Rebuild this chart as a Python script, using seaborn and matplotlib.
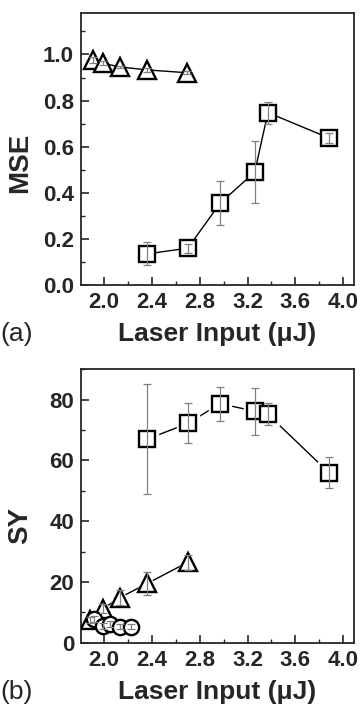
import numpy as np
import seaborn as sns
import matplotlib.pyplot as plt
from matplotlib.ticker import MultipleLocator

# panel (a): MSE
laser_tri_a = [1.91, 1.99, 2.13, 2.36, 2.69]
mse_tri = [0.975, 0.962, 0.946, 0.933, 0.921]
mse_tri_err = [0.012, 0.008, 0.006, 0.008, 0.006]

laser_sq = [2.36, 2.70, 2.97, 3.26, 3.37, 3.88]
mse_sq = [0.135, 0.16, 0.355, 0.49, 0.748, 0.638]
mse_sq_err = [0.05, 0.02, 0.095, 0.135, 0.048, 0.02]

# panel (b): SY
sy_sq = [67.0, 72.2, 78.7, 76.2, 75.2, 56.0]
sy_sq_err = [18.0, 6.6, 5.6, 7.8, 3.7, 5.0]

laser_tri_b = [1.88, 1.99, 2.13, 2.36, 2.70]
sy_tri = [7.4, 11.2, 14.8, 19.5, 26.5]
sy_tri_err = [1.0, 1.5, 2.5, 3.8, 2.5]

laser_circ = [1.915, 1.99, 2.05, 2.13, 2.22]
sy_circ = [7.7, 5.6, 6.2, 5.3, 5.3]
sy_circ_err = [1.0, 1.0, 1.0, 0.8, 0.8]

x_ticks = [2.0, 2.4, 2.8, 3.2, 3.6, 4.0]

sns.set_style("ticks")
plt.rcParams['font.family'] = ['Liberation Sans', 'DejaVu Sans']

fig = plt.figure(figsize=(3.63, 7.06), dpi=100)
ax1 = fig.add_axes([0.223, 0.5963, 0.752, 0.3853])
ax2 = fig.add_axes([0.223, 0.0897, 0.752, 0.3872])


def series(ax, x, y, err, marker, ms, gap=False):
    sns.lineplot(x=x, y=y, ax=ax, color='black', lw=1.0, sort=False,
                 estimator=None, zorder=1)
    if gap:
        ax.plot(x, y, ls='none', marker=marker, ms=ms + 5, mfc='white',
                mec='white', zorder=2)
    ax.plot(x, y, ls='none', marker=marker, ms=ms, mfc='white',
            mec='black', mew=1.7, zorder=3)
    ax.errorbar(x, y, yerr=err, fmt='none', ecolor='#808080', elinewidth=0.9,
                capsize=3, capthick=0.9, zorder=4)


series(ax1, laser_tri_a, mse_tri, mse_tri_err, '^', 12.5)
series(ax1, laser_sq, mse_sq, mse_sq_err, 's', 11)

series(ax2, laser_sq, sy_sq, sy_sq_err, 's', 11, gap=True)
series(ax2, laser_tri_b, sy_tri, sy_tri_err, '^', 12.5, gap=True)
series(ax2, laser_circ, sy_circ, sy_circ_err, 'o', 11)

ax1.set_ylim(0, 1.18)
ax1.set_yticks([0.0, 0.2, 0.4, 0.6, 0.8, 1.0])
ax1.set_yticklabels(['0.0', '0.2', '0.4', '0.6', '0.8', '1.0'])
ax1.yaxis.set_minor_locator(MultipleLocator(0.1))

ax2.set_ylim(0, 90)
ax2.set_yticks([0, 20, 40, 60, 80])
ax2.yaxis.set_minor_locator(MultipleLocator(10))

for ax, ylab, panel, ly in [(ax1, 'MSE', '(a)', 0.45), (ax2, 'SY', '(b)', 0.43)]:
    ax.set_xlim(1.805, 4.09)
    ax.set_xticks(x_ticks)
    ax.set_xticklabels([f'{t:.1f}' for t in x_ticks])
    ax.xaxis.set_minor_locator(MultipleLocator(0.2))
    ax.tick_params(which='major', direction='in', length=6, width=1.2,
                   labelsize=16, pad=5)
    ax.tick_params(which='minor', direction='in', length=3, width=1.0)
    ax.tick_params(top=False, right=False, which='both')
    for lab in ax.get_xticklabels() + ax.get_yticklabels():
        lab.set_fontweight('bold')
    for sp in ax.spines.values():
        sp.set_visible(True)
        sp.set_linewidth(1.3)
    ax.set_xlabel('Laser Input (\u03bcJ)', fontsize=19, fontweight='bold')
    ax.xaxis.set_label_coords(0.5, -0.135)
    ax.set_ylabel(ylab, fontsize=20, fontweight='bold')
    ax.yaxis.set_label_coords(-0.175, ly)
    ax.text(-0.295, -0.135, panel, transform=ax.transAxes, fontsize=19,
            va='top', ha='left')

fig.savefig('out.png', dpi=100)
